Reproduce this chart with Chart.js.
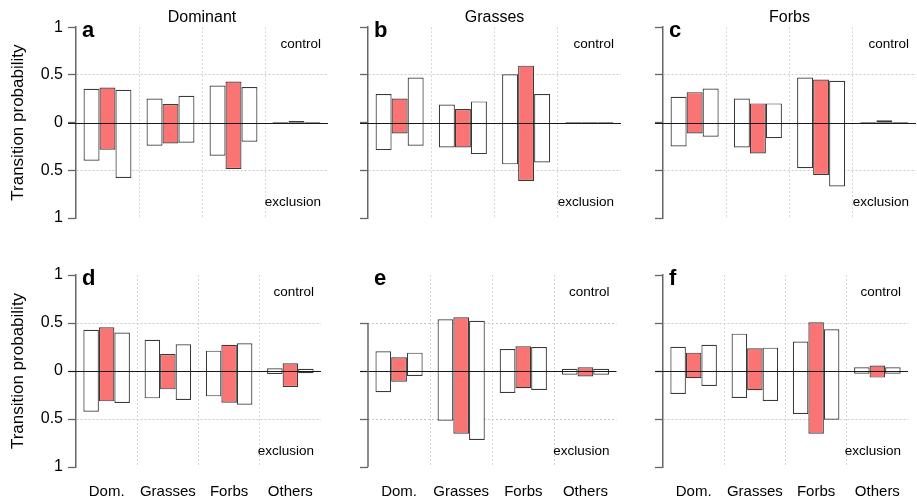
<!DOCTYPE html>
<html>
<head>
<meta charset="utf-8">
<script src="https://cdn.jsdelivr.net/npm/chart.js@4.4.1/dist/chart.umd.min.js"></script>
<style>
	body { margin: 0; background: #fff; }
	#wrap { position: relative; width: 917px; height: 499px; overflow: hidden; }
	#wrap canvas { position: absolute; }
</style>
</head>
<body>
<div id="wrap">
	<canvas id="pa" width="330" height="240" style="left:0;top:0"></canvas>
	<canvas id="pb" width="295" height="240" style="left:330px;top:0"></canvas>
	<canvas id="pc" width="292" height="240" style="left:625px;top:0"></canvas>
	<canvas id="pd" width="330" height="259" style="left:0;top:240px"></canvas>
	<canvas id="pe" width="295" height="259" style="left:330px;top:240px"></canvas>
	<canvas id="pf" width="292" height="259" style="left:625px;top:240px"></canvas>
</div>
<script>
const categories = ["Dom.", "Grasses", "Forbs", "Others"]
const panelTitles = ["Dominant", "Grasses", "Forbs"]
const yTickValues = [-1, -0.5, 0, 0.5, 1]

// each panel: 3 bars per category (left white, red, right white)
// control = height above 0, exclusion = depth below 0
const aControl = [[0.354, 0.253, 0.389, 0.004], [0.368, 0.194, 0.43, 0.017], [0.344, 0.281, 0.372, 0.004]]
const aExclusion = [[0.40, 0.243, 0.347, 0.004], [0.285, 0.219, 0.486, 0.002], [0.58, 0.212, 0.20, 0.004]]

const bControl = [[0.30, 0.19, 0.507, 0.003], [0.253, 0.142, 0.597, 0.003], [0.472, 0.222, 0.30, 0.003]]
const bExclusion = [[0.288, 0.26, 0.4375, 0.003], [0.115, 0.26, 0.611, 0.003], [0.243, 0.33, 0.417, 0.003]]

const cControl = [[0.271, 0.253, 0.472, 0.004], [0.319, 0.201, 0.451, 0.024], [0.358, 0.201, 0.4375, 0.004]]
const cExclusion = [[0.25, 0.26, 0.479, 0.004], [0.115, 0.323, 0.549, 0.001], [0.149, 0.163, 0.67, 0.004]]

const dControl = [[0.43, 0.326, 0.212, 0.028], [0.455, 0.177, 0.274, 0.08], [0.40, 0.278, 0.288, 0.024]]
const dExclusion = [[0.424, 0.285, 0.264, 0.031], [0.316, 0.191, 0.33, 0.167], [0.333, 0.302, 0.351, 0.024]]

const eControl = [[0.205, 0.538, 0.229, 0.024], [0.142, 0.559, 0.257, 0.038], [0.191, 0.524, 0.25, 0.024]]
const eExclusion = [[0.222, 0.517, 0.229, 0.038], [0.111, 0.653, 0.18, 0.056], [0.052, 0.719, 0.198, 0.038]]

const fControl = [[0.253, 0.389, 0.306, 0.038], [0.191, 0.236, 0.507, 0.056], [0.274, 0.243, 0.434, 0.038]]
const fExclusion = [[0.24, 0.281, 0.448, 0.028], [0.076, 0.201, 0.653, 0.069], [0.156, 0.3125, 0.507, 0.028]]

const FONT = "'Liberation Sans', Arial, Helvetica, sans-serif"
Chart.defaults.font.family = FONT
Chart.defaults.color = "#000"

const fills = ["#ffffff", "#fb7474", "#ffffff"]
const edge = "#3a3a3a"
const axisGrey = "#666"

// zero line, panel letter, control / exclusion notes
const panelDeco = {
	id: "panelDeco",
	afterDatasetsDraw(chart, args, opts) {
		const ctx = chart.ctx
		const area = chart.chartArea
		const y = chart.scales.y
		ctx.save()
		let y0 = Math.round(y.getPixelForValue(0)) + 0.5
		ctx.strokeStyle = "#1a1a1a"
		ctx.lineWidth = 1
		ctx.beginPath()
		ctx.moveTo(area.left - 8, y0)
		ctx.lineTo(area.right, y0)
		ctx.stroke()

		if (opts.axisFrom != null) {
			let x = Math.round(area.left)
			ctx.strokeStyle = axisGrey
			ctx.lineWidth = 1.5
			ctx.beginPath()
			ctx.moveTo(x, y.getPixelForValue(opts.axisFrom))
			ctx.lineTo(x, area.bottom)
			ctx.stroke()
		}

		ctx.fillStyle = "#000"
		ctx.font = "bold 22px " + FONT
		ctx.textAlign = "left"
		ctx.textBaseline = "alphabetic"
		ctx.fillText(opts.letter, area.left + 6, area.top + 10)

		ctx.font = "13.5px " + FONT
		ctx.textAlign = "right"
		ctx.textBaseline = "middle"
		ctx.fillText("control", area.right - 7, area.top + 17)
		ctx.fillText("exclusion", area.right - 7, area.bottom - 16)
		ctx.restore()
	}
}

function makePanel(id, p) {
	let datasets = [0, 1, 2].map(i => ({
		label: ["left", "middle", "right"][i],
		data: categories.map((c, k) => [-p.exclusion[i][k], p.control[i][k]]),
		backgroundColor: fills[i],
		borderColor: edge,
		borderWidth: 1.2,
		borderSkipped: false,
		categoryPercentage: 0.76,
		barPercentage: 1
	}))

	new Chart(document.getElementById(id), {
		type: "bar",
		data: { labels: categories, datasets: datasets },
		options: {
			responsive: false,
			animation: false,
			layout: { padding: { top: p.title ? 0 : 35, right: p.padRight, left: 0, bottom: 0 } },
			plugins: {
				legend: { display: false },
				tooltip: { enabled: false },
				title: {
					display: !!p.title,
					text: p.title || "",
					fullSize: false,
					font: { size: 16, weight: "normal" },
					color: "#000",
					padding: { top: 8, bottom: 0 }
				},
				panelDeco: { letter: p.letter, axisFrom: p.axisFrom }
			},
			scales: {
				x: {
					afterFit: s => { s.height = p.title ? 22 : 32 },
					ticks: { display: !p.title, padding: 16, font: { size: 15 }, color: "#000", maxRotation: 0, autoSkip: false },
					grid: {
						offset: true,
						drawTicks: false,
						color: c => (c.type === "tick" && c.index > 0) ? "#d4d4d4" : "rgba(0,0,0,0)"
					},
					border: { display: false, dash: [2, 2] }
				},
				y: {
					min: -1,
					max: 1,
					afterFit: s => { s.width = p.axisW },
					afterBuildTicks: s => { s.ticks = yTickValues.map(v => ({ value: v })) },
					ticks: {
						display: !!p.labels,
						padding: 5,
						font: { size: 16 },
						color: "#000",
						callback: v => String(Math.abs(v))
					},
					grid: {
						drawTicks: true,
						tickLength: 8,
						tickWidth: 1.3,
						tickColor: c => (p.axisFrom != null && c.tick && c.tick.value > p.axisFrom) ? "rgba(0,0,0,0)" : axisGrey,
						color: c => (c.type === "tick" && Math.abs(c.tick.value) === 0.5) ? "#c8c8c8" : "rgba(0,0,0,0)"
					},
					border: { display: p.axisFrom == null, color: axisGrey, width: 1.5, dash: [2, 2] },
					title: {
						display: !!p.labels,
						text: "Transition probability",
						font: { size: 17 },
						color: "#000",
						padding: { top: 8, bottom: 0 }
					}
				}
			}
		},
		plugins: [panelDeco]
	})
}

makePanel("pa", { control: aControl, exclusion: aExclusion, title: panelTitles[0], letter: "a", labels: true, axisW: 76, padRight: 2 })
makePanel("pb", { control: bControl, exclusion: bExclusion, title: panelTitles[1], letter: "b", axisW: 38, padRight: 4 })
makePanel("pc", { control: cControl, exclusion: cExclusion, title: panelTitles[2], letter: "c", axisW: 38, padRight: 1 })
makePanel("pd", { control: dControl, exclusion: dExclusion, letter: "d", labels: true, axisW: 76, padRight: 2 })
makePanel("pe", { control: eControl, exclusion: eExclusion, letter: "e", axisW: 38, padRight: 4, axisFrom: 0.5 })
makePanel("pf", { control: fControl, exclusion: fExclusion, letter: "f", axisW: 38, padRight: 1 })
</script>
</body>
</html>
